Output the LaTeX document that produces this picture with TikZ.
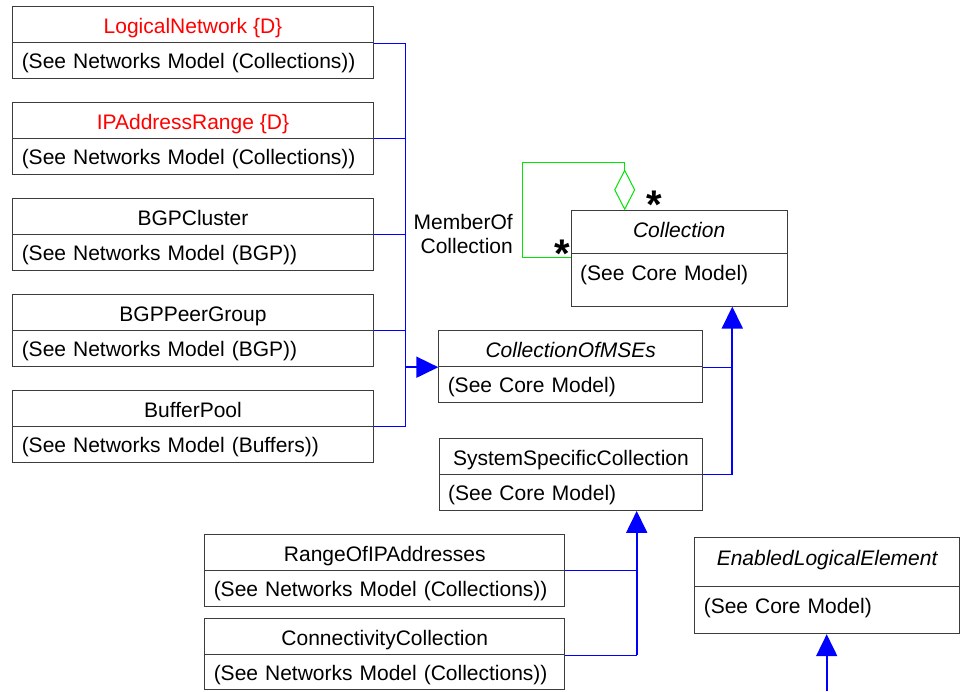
\documentclass[tikz,border=0pt]{standalone}
\usepackage{fontspec}
\setmainfont{Liberation Sans}
\usetikzlibrary{arrows.meta,calc}
\definecolor{umlblue}{RGB}{0,0,255}
\definecolor{umlgreen}{RGB}{0,230,0}
\definecolor{umlred}{RGB}{255,0,0}
\definecolor{umlgray}{RGB}{60,60,60}
\newcommand\umlbox[9]{%
  \node[box, titlebox, minimum width={#4-#2}, minimum height={#5-#3}, #7, #1title/.try] (#1T) at (#2,#3) {#8};
  \node[box, attrbox, minimum width={#4-#2}, minimum height={#6-#5}, text width={#4-#2-18}, inner xsep=9pt, align=left, #1attr/.try] (#1A) at (#2,#5) {#9};
}
\newcommand\umlstar{\raisebox{-20pt}[6pt][6pt]{*}}
\begin{document}
\begin{tikzpicture}[x=1pt,y=-1pt,
  box/.style={draw=umlgray, line width=0.9pt, rectangle, inner sep=0pt, anchor=north west, font=\fontsize{21}{25}\selectfont},
  titlebox/.style={text height=18pt, text depth=0pt},
  attrbox/.style={text height=16.2pt, text depth=0pt},
  coltitle/.style={text height=11.6pt},
  colattr/.style={text height=1.6pt},
  eletitle/.style={text height=7pt},
  eleattr/.style={text height=6.4pt},
  comtitle/.style={text height=16.8pt},
  redtitle/.style={text=umlred},
  ittitle/.style={font=\fontsize{21}{25}\selectfont\itshape},
  plain/.style={},
  blueline/.style={draw=umlblue, line width=1pt},
  bluearrow/.style={draw=umlblue, line width=1.8pt, -{Triangle[length=22pt,width=21pt]}, umlblue},
  greenline/.style={draw=umlgreen, line width=1pt},
  lbl/.style={font=\fontsize{21}{24.3}\selectfont, inner sep=0pt},
  star/.style={font=\fontsize{40}{40}\selectfont\bfseries, inner sep=0pt, anchor=center}
]
\useasboundingbox (0,0) rectangle (972,691);

\umlbox{ln}{12.3}{5.7}{372.7}{42.3}{78}{redtitle}{LogicalNetwork \{D\}}{(See Networks Model (Collections))}
\umlbox{ipr}{12.3}{102.3}{372.7}{138}{174}{redtitle}{IPAddressRange \{D\}}{(See Networks Model (Collections))}
\umlbox{bgpc}{12.3}{198.3}{372.7}{234}{270}{plain}{BGPCluster}{(See Networks Model (BGP))}
\umlbox{bgpp}{12.3}{294.3}{372.7}{330}{366}{plain}{BGPPeerGroup}{(See Networks Model (BGP))}
\umlbox{bp}{12.3}{390}{372.7}{426}{462}{plain}{BufferPool}{(See Networks Model (Buffers))}
\umlbox{com}{438.3}{330.3}{702.3}{366.3}{402}{ittitle}{CollectionOfMSEs}{(See Core Model)}
\umlbox{col}{570.7}{210.3}{786.7}{252.7}{305.7}{ittitle}{Collection}{(See Core Model)}
\umlbox{ssc}{438.7}{438.3}{702.3}{474}{510}{plain}{SystemSpecificCollection}{(See Core Model)}
\umlbox{roip}{204.3}{534.3}{564.3}{570}{605.7}{plain}{RangeOfIPAddresses}{(See Networks Model (Collections))}
\umlbox{cc}{204.3}{618.3}{564.3}{654.3}{689.3}{plain}{ConnectivityCollection}{(See Networks Model (Collections))}
\umlbox{ele}{694.3}{537.3}{959}{585.7}{633.3}{ittitle}{EnabledLogicalElement}{(See Core Model)}

% bus to CollectionOfMSEs
\coordinate (bus) at (405.7,0);
\draw[blueline] (lnT.south east) -- (lnT.south east -| bus) -- (bpT.south east -| bus) -- (bpT.south east);
\draw[blueline] (iprT.south east) -- (iprT.south east -| bus);
\draw[blueline] (bgpcT.south east) -- (bgpcT.south east -| bus);
\draw[blueline] (bgppT.south east) -- (bgppT.south east -| bus);
\draw[bluearrow] (comT.south west -| bus) -- (comT.south west);

% to Collection
\coordinate (j1) at (732.3,0);
\draw[blueline] (comT.south east) -- (comT.south east -| j1);
\draw[blueline] (sscT.south east) -- (sscT.south east -| j1);
\draw[bluearrow] (sscT.south east -| j1) -- (colA.south -| j1);

% to SystemSpecificCollection
\coordinate (j2) at (636.7,0);
\draw[blueline] (roipT.south east) -- (roipT.south east -| j2);
\draw[blueline] (ccT.south east) -- (ccT.south east -| j2);
\draw[bluearrow] (ccT.south east -| j2) -- (sscA.south -| j2);

% to EnabledLogicalElement
\coordinate (eleSrc) at (826.7,691);
\draw[bluearrow] (eleSrc) -- (eleSrc |- eleA.south);

% aggregation
\coordinate (gl) at (522.7,162.3);
\coordinate (agg) at (624.7,162.3);
\draw[greenline, -{Diamond[open, fill=white, length=41pt, width=21pt]}] ([yshift=-5pt]colA.north west) -| (gl) -- (agg) -- (agg |- colT.north);

\node[lbl, align=right, anchor=east] (member) at (513,234) {MemberOf\\Collection};
\node[star] (s1) at (654,198.3) {\umlstar};
\node[star] (s2) at (562,247) {\umlstar};
\end{tikzpicture}
\end{document}
